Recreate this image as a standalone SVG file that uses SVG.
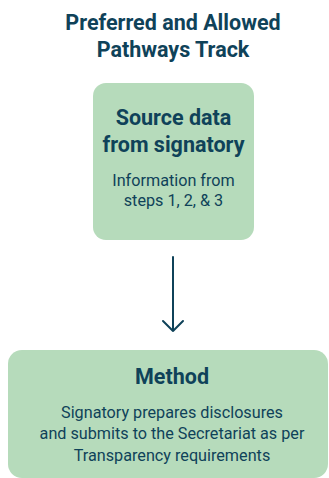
<svg xmlns="http://www.w3.org/2000/svg" width="329" height="478" viewBox="0 0 329 478">
<style>
.box{fill:#b6dbbb}
.t{fill:#0f4259;font-family:"Roboto","Liberation Sans",sans-serif;text-anchor:middle}
.h{font-weight:bold;font-size:21.5px}
.b{font-size:16.2px}
.c{stroke:#0f4259;stroke-width:2;fill:none;stroke-linecap:round;stroke-linejoin:round}
</style>
<rect width="329" height="478" fill="#ffffff"/>
<g id="title">
<text class="t h" x="173" y="30">Preferred and Allowed</text>
<text class="t h" x="173" y="57">Pathways Track</text>
</g>
<g id="source">
<rect class="box" x="93" y="83" width="161" height="157" rx="13"/>
<text class="t h" x="173.5" y="125">Source data</text>
<text class="t h" x="173.5" y="152">from signatory</text>
<text class="t b" x="173.5" y="186">Information from</text>
<text class="t b" x="173.5" y="206">steps 1, 2, &amp; 3</text>
</g>
<g id="connectors">
<path class="c" d="M173 257V331M163 321L173 331L183 321"/>
</g>
<g id="method">
<rect class="box" x="8" y="350" width="320" height="128" rx="14"/>
<text class="t h" x="172" y="384">Method</text>
<text class="t b" x="172" y="418">Signatory prepares disclosures</text>
<text class="t b" x="172" y="439">and submits to the Secretariat as per</text>
<text class="t b" x="172" y="461">Transparency requirements</text>
</g>
</svg>
